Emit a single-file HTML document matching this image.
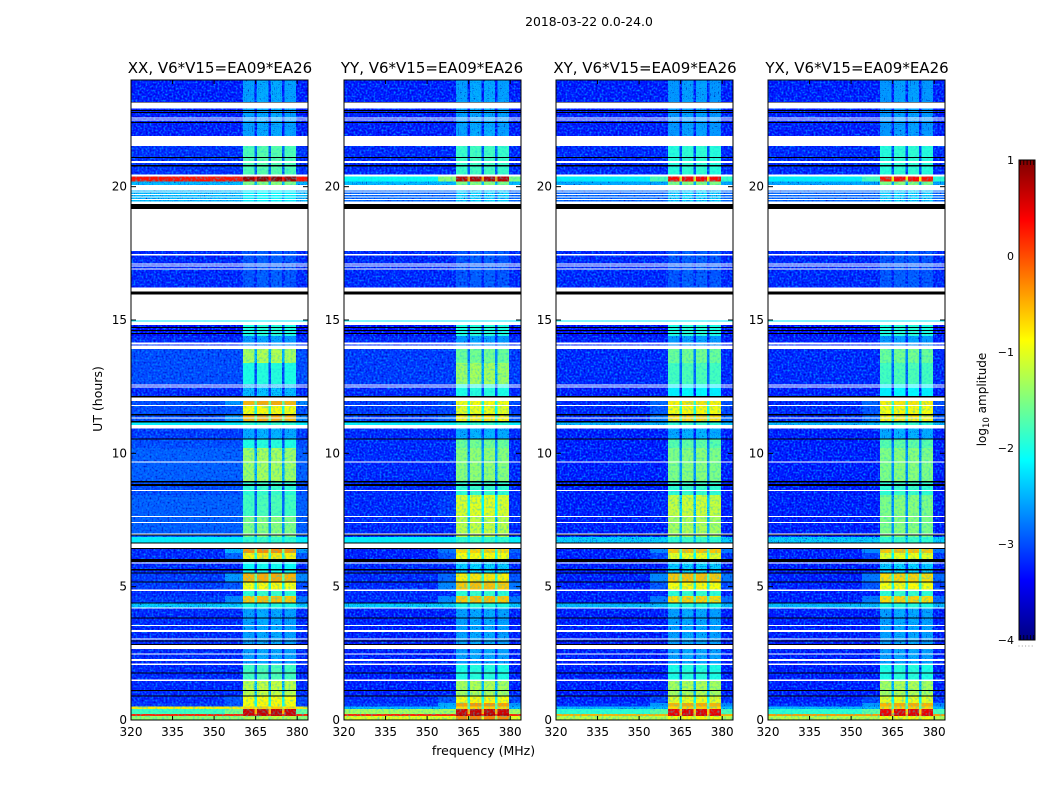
<!DOCTYPE html>
<html lang="en">
<head>
<meta charset="utf-8">
<title>2018-03-22 0.0-24.0</title>
<style>
html,body{margin:0;padding:0;background:#fff;}
svg{display:block;font-family:"DejaVu Sans","Liberation Sans",sans-serif;fill:#000;}
</style>
</head>
<body>
<svg id="chart" xmlns="http://www.w3.org/2000/svg" width="1050" height="800" viewBox="0 0 1050 800">
  <defs>
    <linearGradient id="jet-gradient" x1="0" y1="1" x2="0" y2="0"></linearGradient>
    <filter id="speckle-strong" filterUnits="userSpaceOnUse" x="0" y="0" width="1050" height="800" color-interpolation-filters="sRGB">
      <feTurbulence type="fractalNoise" baseFrequency="0.5" numOctaves="1" seed="3" result="n"/>
      <feColorMatrix in="n" type="matrix" values="0 0 0 0 0  0 0 0 0 0.5  0 0 0 0 1  3.2 0 0 0 -1.45" result="l"/>
      <feColorMatrix in="n" type="matrix" values="0 0 0 0 0  0 0 0 0 0  0 0 0 0 0.65  -3.2 0 0 0 1.3" result="d"/>
      <feComposite in="l" in2="SourceAlpha" operator="in" result="lc"/>
      <feComposite in="d" in2="SourceAlpha" operator="in" result="dc"/>
      <feMerge><feMergeNode in="SourceGraphic"/><feMergeNode in="lc"/><feMergeNode in="dc"/></feMerge>
    </filter>
    <filter id="speckle-weak" filterUnits="userSpaceOnUse" x="0" y="0" width="1050" height="800" color-interpolation-filters="sRGB">
      <feTurbulence type="fractalNoise" baseFrequency="0.45" numOctaves="1" seed="8" result="n"/>
      <feColorMatrix in="n" type="matrix" values="0 0 0 0 0.1  0 0 0 0 0.8  0 0 0 0 0.9  1.6 0 0 0 -0.72" result="l"/>
      <feComposite in="l" in2="SourceAlpha" operator="in" result="lc"/>
      <feMerge><feMergeNode in="SourceGraphic"/><feMergeNode in="lc"/></feMerge>
    </filter>
  </defs>
  <text x="589" y="26" font-size="12.4" text-anchor="middle">2018-03-22 0.0-24.0</text>
  <text x="483.5" y="755" font-size="12.5" text-anchor="middle">frequency (MHz)</text>
  <text x="0" y="0" font-size="12.5" text-anchor="middle" transform="translate(102,399) rotate(-90)">UT (hours)</text>
  <text x="0" y="0" font-size="12" text-anchor="middle" transform="translate(986,399.5) rotate(-90)">log<tspan font-size="8.5" dy="3">10</tspan><tspan dy="-3"> amplitude</tspan></text>
  <g id="panels"></g>
  <g id="colorbar"></g>
</svg>
<script>
// Frequency axis (MHz) and time axis (hours)
const freqTicks = [320, 335, 350, 365, 380];
const hourTicks = [0, 5, 10, 15, 20];
const colorbarTicks = [1, 0, -1, -2, -3, -4];
const panelTitles = ["XX, V6*V15=EA09*EA26", "YY, V6*V15=EA09*EA26", "XY, V6*V15=EA09*EA26", "YX, V6*V15=EA09*EA26"];

// Frequency column edges (MHz) and offset of each column from the row's in-band level (null = out of band)
const freqEdges = [320, 354, 360.5, 364.6, 365.5, 369.6, 370.5, 374.5, 375.5, 379.6, 384];
const bandpassOffset = [null, -2.1, 0, -1.1, 0.05, -1.1, 0.05, -1.1, 0, -2.2];

// Time row edges (hours, top to bottom)
const timeEdges = [24,21.525,20.375,20.185,19.89,17.59,15,14.81,14.4,13.91,13.39,12.6,11.96,11.79,11.44,11.21,10.925,10.525,10.2,8.96,8.44,7.65,6.86,6.41,6.26,6,5.5,5.175,4.84,4.65,4.375,4.19,2.07,1.46,0.875,0.64,0.5,0.41,0.225,0.15,0];

// Out-of-band log10 amplitude per row
const backgroundXX = [-3.3,-3.2,0.3,-2.4,-2.4,-3.25,-2.2,-3.4,-3.25,-3.05,-3.05,-3.25,-3.05,-3.05,-3.05,-2.2,-3.15,-3.05,-2.95,-3.05,-2.95,-2.95,-2.2,-3.25,-3.25,-3.25,-3.15,-3.15,-3.25,-3.15,-2.3,-3.25,-3.25,-3.25,-3.25,-3.15,-0.8,-1.8,0.2,-1.4];
const backgroundYY = [-3.3,-3.25,-2.1,-2.4,-2.9,-3.25,-2.2,-3.4,-3.25,-3.15,-3.15,-3.25,-3.15,-3.15,-3.15,-2.2,-3.25,-3.25,-3.25,-3.25,-3.25,-3.25,-2.2,-3.3,-3.3,-3.25,-3.25,-3.25,-3.25,-3.25,-2.3,-3.3,-3.3,-3.3,-3.25,-3.15,-2.4,-1.3,0.2,-1];
const backgroundXY = [-3.3,-3.25,-2.2,-2.5,-2.9,-3.25,-2.2,-3.4,-3.3,-3.25,-3.25,-3.3,-3.25,-3.25,-3.25,-2.4,-3.3,-3.3,-3.3,-3.3,-3.3,-3.3,-2.3,-3.3,-3.3,-3.3,-3.3,-3.3,-3.3,-3.3,-2.4,-3.3,-3.3,-3.3,-3.3,-3.2,-2.4,-1.9,-0.5,-1.2];
const backgroundYX = [-3.3,-3.25,-2.2,-2.5,-2.9,-3.25,-2.2,-3.4,-3.3,-3.25,-3.25,-3.3,-3.25,-3.25,-3.25,-2.4,-3.3,-3.3,-3.3,-3.3,-3.3,-3.3,-2.3,-3.3,-3.3,-3.3,-3.3,-3.3,-3.3,-3.3,-2.4,-3.3,-3.3,-3.3,-3.3,-3.2,-2.4,-1.9,-0.4,-1.2];

// In-band log10 amplitude per row
const signalXX = [-2.55,-1.75,0.85,-1.5,-2.2,-3,-2.2,-2,-2.6,-1.3,-2,-2.4,-0.5,-0.9,-0.5,-1.9,-2.5,-2,-1.35,-1.9,-1.8,-1.5,-1.9,-0.35,-0.8,-2.1,-0.5,-0.9,-1.9,-0.6,-2,-2.55,-1.8,-1.2,-0.9,-0.9,-0.7,0.6,0.6,-1.2];
const signalYY = [-2.55,-1.85,0.7,-1.5,-2.3,-3,-2.2,-2,-2.6,-1.6,-1.35,-2,-0.9,-1,-0.8,-1.9,-2.5,-1.6,-1.45,-1.9,-1.05,-1.2,-1.9,-0.7,-0.9,-2.3,-0.8,-0.6,-1.9,-0.6,-2,-2.55,-2,-1.3,-0.9,-0.4,-0.7,0.6,0.7,-0.3];
const signalXY = [-2.6,-1.95,0.35,-1.5,-2.3,-3,-2.2,-2,-2.6,-1.6,-1.8,-2.2,-0.8,-0.9,-0.7,-1.9,-2.5,-1.7,-1.5,-1.9,-1.15,-1.3,-1.9,-0.6,-1,-2.3,-0.6,-0.9,-1.9,-0.7,-2,-2.55,-2,-1.3,-1,-0.5,-0.7,0.45,0.5,-0.9];
const signalYX = [-2.6,-1.95,0.3,-1.5,-2.3,-3,-2.2,-2,-2.6,-1.6,-1.8,-2.2,-0.8,-0.9,-0.8,-1.9,-2.5,-1.7,-1.5,-1.9,-1.5,-1.5,-1.9,-0.6,-1,-2.3,-0.7,-0.9,-1.9,-0.7,-2,-2.55,-2,-1.3,-1,-0.5,-0.7,0.45,0.5,-0.9];

// Flagged time ranges (start hour, end hour): drawn white (no data) or black (zero amplitude)
const whiteRangeStarts = [23.15,22.59,22.52,21.9,20.96,20.46,20.06,19.81,19.725,19.63,19.54,19.435,19.16,17.475,17.12,17.04,16.94,16.225,15.965,14.94,14.16,14.05,12.575,12.5,12.1,11.81,11.35,11.06,9.69,8.625,7.65,7.425,7,6.61,5.9,4.9,4.225,3.56,3.375,3.05,2.81,2.5,2.29,2.11,1.51];
const whiteRangeEnds = [22.94,22.56,22.485,21.525,20.89,20.375,19.85,19.775,19.69,19.595,19.5,19.35,17.59,17.41,17.08,17,16.89,16.06,14.975,14.81,14.085,13.91,12.54,12.46,11.96,11.775,11.31,10.925,9.65,8.59,7.61,7.39,6.96,6.45,5.86,4.84,4.19,3.525,3.3,3.01,2.66,2.46,2.21,2.07,1.46];
const blackRangeStarts = [23.175,22.875,22.8,22.425,21.11,20.81,19.35,16.06,14.74,14.625,14.51,12.15,11.475,11.21,10.56,8.96,8.85,6.96,6.65,6.45,6.03,5.67,5.54,5.19,4.41,3.85,2.98,2.85,1.79,1.125,0.91];
const blackRangeEnds = [23.15,22.84,22.76,22.39,21.075,20.75,19.16,15.965,14.7,14.59,14.475,12.1,11.41,11.15,10.525,8.9,8.775,6.91,6.61,6.41,5.925,5.6,5.5,5.15,4.375,3.81,2.94,2.81,1.75,1.09,0.875];

const panelBackgrounds = [backgroundXX, backgroundYY, backgroundXY, backgroundYX];
const panelSignals = [signalXX, signalYY, signalXY, signalYX];
const panelSlugs = ['xx', 'yy', 'xy', 'yx'];

const SVG_NS = 'http://www.w3.org/2000/svg';
const plotLeft = [131, 344, 556, 768];
const plotWidth = 177;
const plotTop = 80;
const plotBottom = 720;
const freqMin = 320;
const pxPerMHz = 2.77;
const hourMax = 24;
const titleCenter = [220, 432, 645, 857];
const speckleCutoff = -2.2;

function xScale(panelIndex, freq) { return plotLeft[panelIndex] + (freq - freqMin) * pxPerMHz; }
function yScale(hour) { return plotBottom - (hour / hourMax) * (plotBottom - plotTop); }
function clamp01(v) { return Math.max(0, Math.min(1, v)); }
function jet(logValue) {
  const t = clamp01((logValue + 4) / 5);
  const r = clamp01(1.5 - Math.abs(4 * t - 3));
  const g = clamp01(1.5 - Math.abs(4 * t - 2));
  const b = clamp01(1.5 - Math.abs(4 * t - 1));
  return 'rgb(' + Math.round(r * 255) + ',' + Math.round(g * 255) + ',' + Math.round(b * 255) + ')';
}
function make(tag, parent, attrs) {
  const el = document.createElementNS(SVG_NS, tag);
  for (const k in attrs) el.setAttribute(k, attrs[k]);
  parent.appendChild(el);
  return el;
}

const panelsRoot = document.getElementById('panels');
panelTitles.forEach(function (title, p) {
  const slug = panelSlugs[p];
  const g = make('g', panelsRoot, {});
  
  

  const heatLow = make('g', g, { filter: 'url(#speckle-strong)', 'shape-rendering': 'crispEdges' });
  
  
  const heatHigh = make('g', g, { filter: 'url(#speckle-weak)', 'shape-rendering': 'crispEdges' });
  
  
  const bg = panelBackgrounds[p];
  const sig = panelSignals[p];
  for (let r = 0; r < timeEdges.length - 1; r++) {
    const y0 = yScale(timeEdges[r]);
    const y1 = yScale(timeEdges[r + 1]);
    for (let c = 0; c < freqEdges.length - 1; c++) {
      const offset = bandpassOffset[c];
      const value = offset === null ? bg[r] : Math.max(bg[r], sig[r] + offset);
      const x0 = xScale(p, freqEdges[c]);
      const x1 = Math.min(xScale(p, freqEdges[c + 1]), plotLeft[p] + plotWidth);
      const cellParent = value < speckleCutoff ? heatLow : heatHigh;
      const cell = make('rect', cellParent, { x: x0, y: y0, width: x1 - x0, height: y1 - y0, fill: jet(value) });
      
      
    }
  }

  const flags = make('g', g, { 'shape-rendering': 'crispEdges' });
  
  
  whiteRangeStarts.forEach(function (start, i) {
    const y0 = yScale(start);
    const rect = make('rect', flags, { x: plotLeft[p], y: y0, width: plotWidth, height: yScale(whiteRangeEnds[i]) - y0, fill: '#fff' });
    
    
  });
  blackRangeStarts.forEach(function (start, i) {
    const y0 = yScale(start);
    const rect = make('rect', flags, { x: plotLeft[p], y: y0, width: plotWidth, height: yScale(blackRangeEnds[i]) - y0, fill: '#000' });
    
    
  });

  const frame = make('rect', g, { x: plotLeft[p], y: plotTop, width: plotWidth, height: plotBottom - plotTop, fill: 'none', stroke: '#000', 'stroke-width': 1 });
  
  

  freqTicks.forEach(function (tick) {
    const x = xScale(p, tick);
    const tickBottom = make('line', g, { x1: x, x2: x, y1: plotBottom, y2: plotBottom - 4, stroke: '#000', 'stroke-width': 1 });
    
    
    const tickTop = make('line', g, { x1: x, x2: x, y1: plotTop, y2: plotTop + 4, stroke: '#000', 'stroke-width': 1 });
    
    
    const label = make('text', g, { x: x, y: 736, 'font-size': 12, 'text-anchor': 'middle' });
    label.textContent = String(tick);
    
    
  });

  hourTicks.forEach(function (tick) {
    const y = yScale(tick);
    const tickLeft = make('line', g, { x1: plotLeft[p], x2: plotLeft[p] + 5, y1: y, y2: y, stroke: '#000', 'stroke-width': 1 });
    
    
    const tickRight = make('line', g, { x1: plotLeft[p] + plotWidth, x2: plotLeft[p] + plotWidth - 5, y1: y, y2: y, stroke: '#000', 'stroke-width': 1 });
    
    
    const label = make('text', g, { x: plotLeft[p] - 4, y: y + 4, 'font-size': 12, 'text-anchor': 'end' });
    label.textContent = String(tick);
    
    
  });

  const titleEl = make('text', g, { x: titleCenter[p], y: 73, 'font-size': 15, 'text-anchor': 'middle' });
  titleEl.textContent = title;
  
  
});

// Colorbar
const cbLeft = 1019, cbWidth = 16, cbTop = 160, cbBottom = 640;
const cbMax = colorbarTicks[0];
const cbMin = colorbarTicks[colorbarTicks.length - 1];
function cbScale(v) { return cbBottom - (v - cbMin) / (cbMax - cbMin) * (cbBottom - cbTop); }
const grad = document.getElementById('jet-gradient');
for (let i = 0; i <= 40; i++) {
  const stopValue = cbMin + (cbMax - cbMin) * i / 40;
  make('stop', grad, { offset: (i / 40), 'stop-color': jet(stopValue) });
}
const cb = document.getElementById('colorbar');
const cbRect = make('rect', cb, { x: cbLeft, y: cbTop, width: cbWidth, height: cbBottom - cbTop, fill: 'url(#jet-gradient)', stroke: '#000', 'stroke-width': 1 });


for (let i = 0; i < 5; i++) {
  const x = cbLeft + 1.5 + i * 3.3;
  const topMark = make('line', cb, { x1: x, x2: x, y1: cbTop, y2: cbTop + 5, stroke: '#000', 'stroke-width': 0.8 });
  
  
  const bottomMark = make('line', cb, { x1: x, x2: x, y1: cbBottom, y2: cbBottom - 5, stroke: '#000', 'stroke-width': 0.8 });
  
  
  const dot = make('rect', cb, { x: x - 2, y: 645.5, width: 1, height: 1, fill: '#999' });
  
  
}
colorbarTicks.forEach(function (tick) {
  const label = make('text', cb, { x: 1014, y: cbScale(tick) + 4, 'font-size': 11, 'text-anchor': 'end' });
  label.textContent = tick < 0 ? '\u2212' + Math.abs(tick) : String(tick);
  
  
});
</script>
</body>
</html>
